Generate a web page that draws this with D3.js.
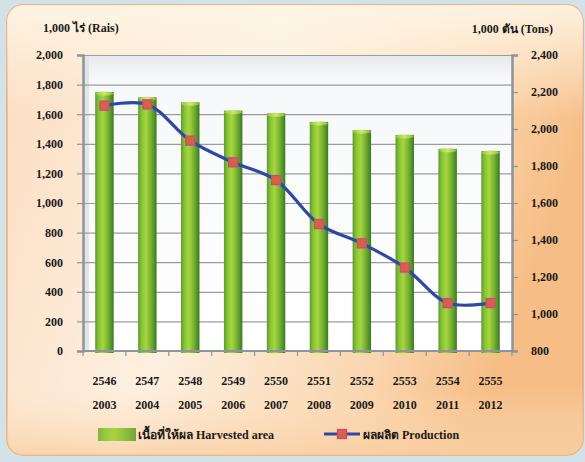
<!DOCTYPE html>
<html>
<head>
<meta charset="utf-8">
<script src="https://cdn.jsdelivr.net/npm/d3@7"></script>
<style>
  html, body { margin: 0; padding: 0; background: #d3e2e7; }
  svg { display: block; }
</style>
</head>
<body>
<div id="chart"></div>
<script>
// Chart data
const thaiYears = ["2546", "2547", "2548", "2549", "2550", "2551", "2552", "2553", "2554", "2555"];
const ceYears = ["2003", "2004", "2005", "2006", "2007", "2008", "2009", "2010", "2011", "2012"];
const harvestedArea = [1750, 1714, 1680, 1624, 1606, 1548, 1492, 1460, 1366, 1351];
const production = [2126, 2133, 1937, 1820, 1724, 1486, 1382, 1251, 1059, 1059];
const leftTicks = [0, 200, 400, 600, 800, 1000, 1200, 1400, 1600, 1800, 2000];
const rightTicks = [800, 1000, 1200, 1400, 1600, 1800, 2000, 2200, 2400];

const WIDTH = 585;
const HEIGHT = 462;
const plot = { left: 83, right: 512, top: 55, bottom: 351 };
const FONT = "'Liberation Serif', 'Times New Roman', serif";

// style helper for all labels
function labelStyle(sel) {
  sel
    .style("font-family", FONT)
    .style("font-weight", "bold")
    .style("font-size", "12px")
    .style("fill", "#1a1a1a");
}

const svg = d3.select("#chart")
  .append("svg")
  .attr("width", WIDTH)
  .attr("height", HEIGHT);

const defs = svg.append("defs");

// Panel gradient
const panelGrad = defs.append("linearGradient")
  .attr("id", "panelGrad")
  .attr("x1", "0").attr("y1", "0").attr("x2", "1").attr("y2", "0.3");
panelGrad.append("stop").attr("offset", "0").attr("stop-color", "#fcdcc0");
panelGrad.append("stop").attr("offset", "0.45").attr("stop-color", "#fdf0e0");
panelGrad.append("stop").attr("offset", "0.8").attr("stop-color", "#fad6b0");
panelGrad.append("stop").attr("offset", "1").attr("stop-color", "#f6be86");

const panelTop = defs.append("linearGradient")
  .attr("id", "panelTop")
  .attr("x1", "0").attr("y1", "0").attr("x2", "0").attr("y2", "1");
panelTop.append("stop").attr("offset", "0").attr("stop-color", "#fff6e6").attr("stop-opacity", 0.9);
panelTop.append("stop").attr("offset", "0.25").attr("stop-color", "#fff6e6").attr("stop-opacity", 0);
panelTop.append("stop").attr("offset", "0.85").attr("stop-color", "#fde2c4").attr("stop-opacity", 0);
panelTop.append("stop").attr("offset", "1").attr("stop-color", "#f9cfa2").attr("stop-opacity", 0.8);

// Plot area gradient
const plotGrad = defs.append("linearGradient")
  .attr("id", "plotGrad")
  .attr("x1", "0").attr("y1", "0").attr("x2", "0").attr("y2", "1");
plotGrad.append("stop").attr("offset", "0").attr("stop-color", "#e6e9eb");
plotGrad.append("stop").attr("offset", "0.08").attr("stop-color", "#f7f8f9");
plotGrad.append("stop").attr("offset", "1").attr("stop-color", "#ffffff");

// Cylinder gradient for bars
const barGrad = defs.append("linearGradient")
  .attr("id", "barGrad")
  .attr("x1", "0").attr("y1", "0").attr("x2", "1").attr("y2", "0");
barGrad.append("stop").attr("offset", "0").attr("stop-color", "#5a9a2a");
barGrad.append("stop").attr("offset", "0.18").attr("stop-color", "#86c236");
barGrad.append("stop").attr("offset", "0.42").attr("stop-color", "#a6d63e");
barGrad.append("stop").attr("offset", "0.72").attr("stop-color", "#72ae30");
barGrad.append("stop").attr("offset", "1").attr("stop-color", "#3a7a22");

const capGrad = defs.append("linearGradient")
  .attr("id", "capGrad")
  .attr("x1", "0").attr("y1", "0").attr("x2", "1").attr("y2", "0");
capGrad.append("stop").attr("offset", "0").attr("stop-color", "#96c640");
capGrad.append("stop").attr("offset", "0.5").attr("stop-color", "#cde868");
capGrad.append("stop").attr("offset", "1").attr("stop-color", "#86b838");

// Background panel
svg.append("rect")
  .attr("x", 7).attr("y", 5)
  .attr("width", 576).attr("height", 450)
  .attr("rx", 16)
  .attr("fill", "url(#panelGrad)")
  .attr("stroke", "#eea77a")
  .attr("stroke-width", 1.5);
svg.append("rect")
  .attr("x", 7).attr("y", 5)
  .attr("width", 576).attr("height", 450)
  .attr("rx", 16)
  .attr("fill", "url(#panelTop)");

// Plot area
svg.append("rect")
  .attr("x", plot.left).attr("y", plot.top)
  .attr("width", plot.right - plot.left).attr("height", plot.bottom - plot.top)
  .attr("fill", "url(#plotGrad)");
svg.append("rect")
  .attr("x", plot.left).attr("y", plot.top)
  .attr("width", 6).attr("height", plot.bottom - plot.top)
  .attr("fill", "#e2e5e7");

// Scales
const x = d3.scaleBand()
  .domain(thaiYears)
  .range([plot.left, plot.right])
  .paddingInner(0.57)
  .paddingOuter(0.285);

const yLeft = d3.scaleLinear([0, 2000], [plot.bottom, plot.top]);
const yRight = d3.scaleLinear([800, 2400], [plot.bottom, plot.top]);

// Gridlines
svg.append("g")
  .attr("transform", `translate(${plot.left},0)`)
  .call(d3.axisLeft(yLeft).tickValues(leftTicks).tickSize(-(plot.right - plot.left)).tickFormat(""))
  .call((g) => g.select(".domain").remove())
  .call((g) => g.selectAll("line").attr("stroke", "#9a9c9e").attr("stroke-width", 1.2));

// Bars
const bars = svg.append("g");
bars.selectAll("rect.bar")
  .data(harvestedArea)
  .enter()
  .append("rect")
  .attr("class", "bar")
  .attr("x", (d, i) => x(thaiYears[i]))
  .attr("y", (d) => yLeft(d))
  .attr("width", x.bandwidth())
  .attr("height", (d) => yLeft(0) - yLeft(d) + 2)
  .attr("fill", "url(#barGrad)");

bars.selectAll("ellipse.cap")
  .data(harvestedArea)
  .enter()
  .append("ellipse")
  .attr("class", "cap")
  .attr("cx", (d, i) => x(thaiYears[i]) + x.bandwidth() / 2)
  .attr("cy", (d) => yLeft(d) + 1.5)
  .attr("rx", x.bandwidth() / 2)
  .attr("ry", 2)
  .attr("fill", "url(#capGrad)");

// Left axis
svg.append("g")
  .attr("transform", `translate(${plot.left},0)`)
  .call(d3.axisLeft(yLeft).tickValues(leftTicks).tickSize(6).tickPadding(14).tickFormat(d3.format(",")))
  .call((g) => g.select(".domain").attr("stroke", "#8c959b").attr("stroke-width", 2.5))
  .call((g) => g.selectAll("line").attr("stroke", "#8c959b").attr("stroke-width", 1.2))
  .call((g) => g.selectAll("text").call(labelStyle));

// Right axis
svg.append("g")
  .attr("transform", `translate(${plot.right},0)`)
  .call(d3.axisRight(yRight).tickValues(rightTicks).tickSize(6).tickPadding(13).tickFormat(d3.format(",")))
  .call((g) => g.select(".domain").attr("stroke", "#8c959b").attr("stroke-width", 2.5))
  .call((g) => g.selectAll("line").attr("stroke", "#8c959b").attr("stroke-width", 1.2))
  .call((g) => g.selectAll("text").call(labelStyle));

// Bottom axis (tick marks at category boundaries)
const gap = x.step() - x.bandwidth();
const boundaries = thaiYears.map((d) => x(d) - gap / 2).concat([plot.right]);
svg.append("line")
  .attr("x1", plot.left).attr("x2", plot.right)
  .attr("y1", plot.bottom).attr("y2", plot.bottom)
  .attr("stroke", "#8c959b").attr("stroke-width", 2);
svg.append("g")
  .selectAll("line")
  .data(boundaries)
  .enter()
  .append("line")
  .attr("x1", (d) => d).attr("x2", (d) => d)
  .attr("y1", plot.bottom).attr("y2", plot.bottom + 5)
  .attr("stroke", "#8c959b").attr("stroke-width", 1.2);

svg.append("g")
  .selectAll("text")
  .data(thaiYears)
  .enter()
  .append("text")
  .attr("x", (d) => x(d) + x.bandwidth() / 2)
  .attr("y", 385)
  .attr("text-anchor", "middle")
  .call(labelStyle)
  .text((d) => d);

svg.append("g")
  .selectAll("text")
  .data(ceYears)
  .enter()
  .append("text")
  .attr("x", (d, i) => x(thaiYears[i]) + x.bandwidth() / 2)
  .attr("y", 409)
  .attr("text-anchor", "middle")
  .call(labelStyle)
  .text((d) => d);

// Production line
const line = d3.line()
  .x((d, i) => x(thaiYears[i]) + x.bandwidth() / 2)
  .y((d) => yRight(d))
  .curve(d3.curveCatmullRom.alpha(0.5));

svg.append("path")
  .datum(production)
  .attr("fill", "none")
  .attr("stroke", "#2f48a6")
  .attr("stroke-width", 3.2)
  .attr("d", line);

svg.append("g")
  .selectAll("rect")
  .data(production)
  .enter()
  .append("rect")
  .attr("x", (d, i) => x(thaiYears[i]) + x.bandwidth() / 2 - 4.5)
  .attr("y", (d) => yRight(d) - 4.5)
  .attr("width", 9)
  .attr("height", 9)
  .attr("fill", "#d9623e")
  .attr("stroke", "#c54a8a")
  .attr("stroke-width", 1.3);

// Axis titles
svg.append("text")
  .attr("x", 43)
  .attr("y", 32)
  .call(labelStyle)
  .text("1,000 ไร่ (Rais)");

svg.append("text")
  .attr("x", 553)
  .attr("y", 33)
  .attr("text-anchor", "end")
  .call(labelStyle)
  .text("1,000 ตัน (Tons)");

// Legend
const legend = svg.append("g");
legend.append("rect")
  .attr("x", 98).attr("y", 428)
  .attr("width", 38).attr("height", 13)
  .attr("fill", "url(#barGrad)");
legend.append("rect")
  .attr("x", 98).attr("y", 428)
  .attr("width", 38).attr("height", 13)
  .attr("fill", "#a8d24a")
  .attr("opacity", 0.5);
legend.append("text")
  .attr("x", 138)
  .attr("y", 439)
  .call(labelStyle)
  .text("เนื้อที่ให้ผล Harvested area");

legend.append("line")
  .attr("x1", 324).attr("x2", 360)
  .attr("y1", 434).attr("y2", 434)
  .attr("stroke", "#2f48a6")
  .attr("stroke-width", 3.2);
legend.append("rect")
  .attr("x", 337.5).attr("y", 429.5)
  .attr("width", 9).attr("height", 9)
  .attr("fill", "#d9623e")
  .attr("stroke", "#c54a8a")
  .attr("stroke-width", 1.3);
legend.append("text")
  .attr("x", 363)
  .attr("y", 439)
  .call(labelStyle)
  .text("ผลผลิต Production");
</script>
</body>
</html>
